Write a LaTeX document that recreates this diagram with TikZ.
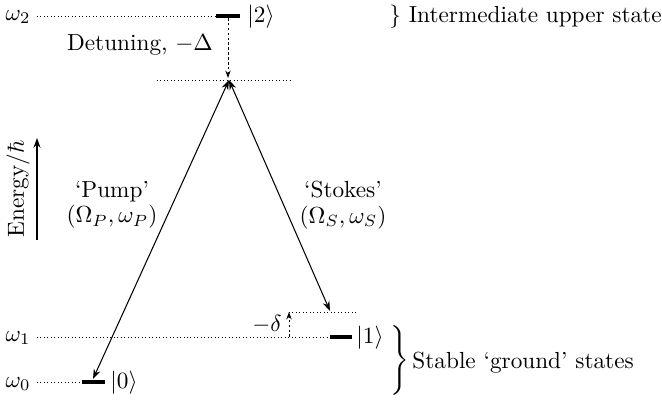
\documentclass[tikz,border=0pt]{standalone}
\usetikzlibrary{arrows.meta}
\begin{document}
\begin{tikzpicture}[x=0.43pt,y=-0.43pt,
  lvl/.style={line width=0.4pt,dash pattern=on 0.4pt off 1.1pt},
  bar/.style={line width=1.7pt},
  dsh/.style={line width=0.4pt,dash pattern=on 1.1pt off 1pt,-{Stealth[length=3.2pt,width=2.3pt]}},
  trans/.style={line width=0.45pt,{Stealth[length=4.2pt,width=3pt]}-{Stealth[length=4.2pt,width=3pt]}},
  lab/.style={inner sep=0pt}]
\useasboundingbox (0,0) rectangle (662,401);
% coordinates
\coordinate (w2s) at (37,16);
\coordinate (b2l) at (216,16);
\coordinate (b2r) at (240,16);
\coordinate (b2m) at (228,18);
\coordinate (vl) at (157,80);
\coordinate (vr) at (293,80);
\coordinate (vm) at (229,80);
\coordinate (vd) at (228,78);
\coordinate (w1s) at (37,337);
\coordinate (b1l) at (330,337);
\coordinate (b1r) at (352,337);
\coordinate (dl) at (289,312);
\coordinate (dr) at (358,312);
\coordinate (db) at (289,337);
\coordinate (sk) at (330,311);
\coordinate (w0s) at (37,382);
\coordinate (b0l) at (82,382);
\coordinate (b0r) at (105,382);
\coordinate (p0) at (93,379);
\coordinate (ea) at (37,240);
\coordinate (eb) at (37,138);
% levels
\draw[lvl] (w2s) -- (b2l);
\draw[bar] (b2l) -- (b2r);
\draw[lvl] (vl) -- (vr);
\draw[dsh] (b2m) -- (vd);
\draw[lvl] (w1s) -- (b1l);
\draw[bar] (b1l) -- (b1r);
\draw[lvl] (dl) -- (dr);
\draw[dsh] (db) -- (dl);
\draw[lvl] (w0s) -- (b0l);
\draw[bar] (b0l) -- (b0r);
% transitions
\draw[trans] (vm) -- (p0);
\draw[trans] (vm) -- (sk);
% energy axis
\draw[line width=0.5pt,-{Stealth[length=4.2pt,width=3pt]}] (ea) -- (eb);
% labels
\node[lab] (lw2) at (18,17) {$\omega_2$};
\node[lab] (lw1) at (18,338) {$\omega_1$};
\node[lab] (lw0) at (18,384) {$\omega_0$};
\node[lab,anchor=west] (k2) at (247,17) {$|2\rangle$};
\node[lab,anchor=west] (k1) at (356,338) {$|1\rangle$};
\node[lab,anchor=west] (k0) at (110,383) {$|0\rangle$};
\node[lab] (det) at (140,45) {Detuning, $-\Delta$};
\node[lab,anchor=west] (ius) at (389,17) {$\}$ Intermediate upper state};
\node[lab,rotate=90] (en) at (18,189) {Energy/$\hbar$};
\node[lab,align=center] (pump) at (112,205) {`Pump'\\[-1pt]$(\Omega_P,\omega_P)$};
\node[lab,align=center] (stokes) at (343,205) {`Stokes'\\[-1pt]$(\Omega_S,\omega_S)$};
\node[lab] (md) at (267,324) {$-\delta$};
\node[lab] (br) at (398,362) {$\left.\vrule height 14pt depth 14pt width 0pt\right\}$};
\node[lab,anchor=west] (sgs) at (412,363) {Stable `ground' states};
\end{tikzpicture}
\end{document}
